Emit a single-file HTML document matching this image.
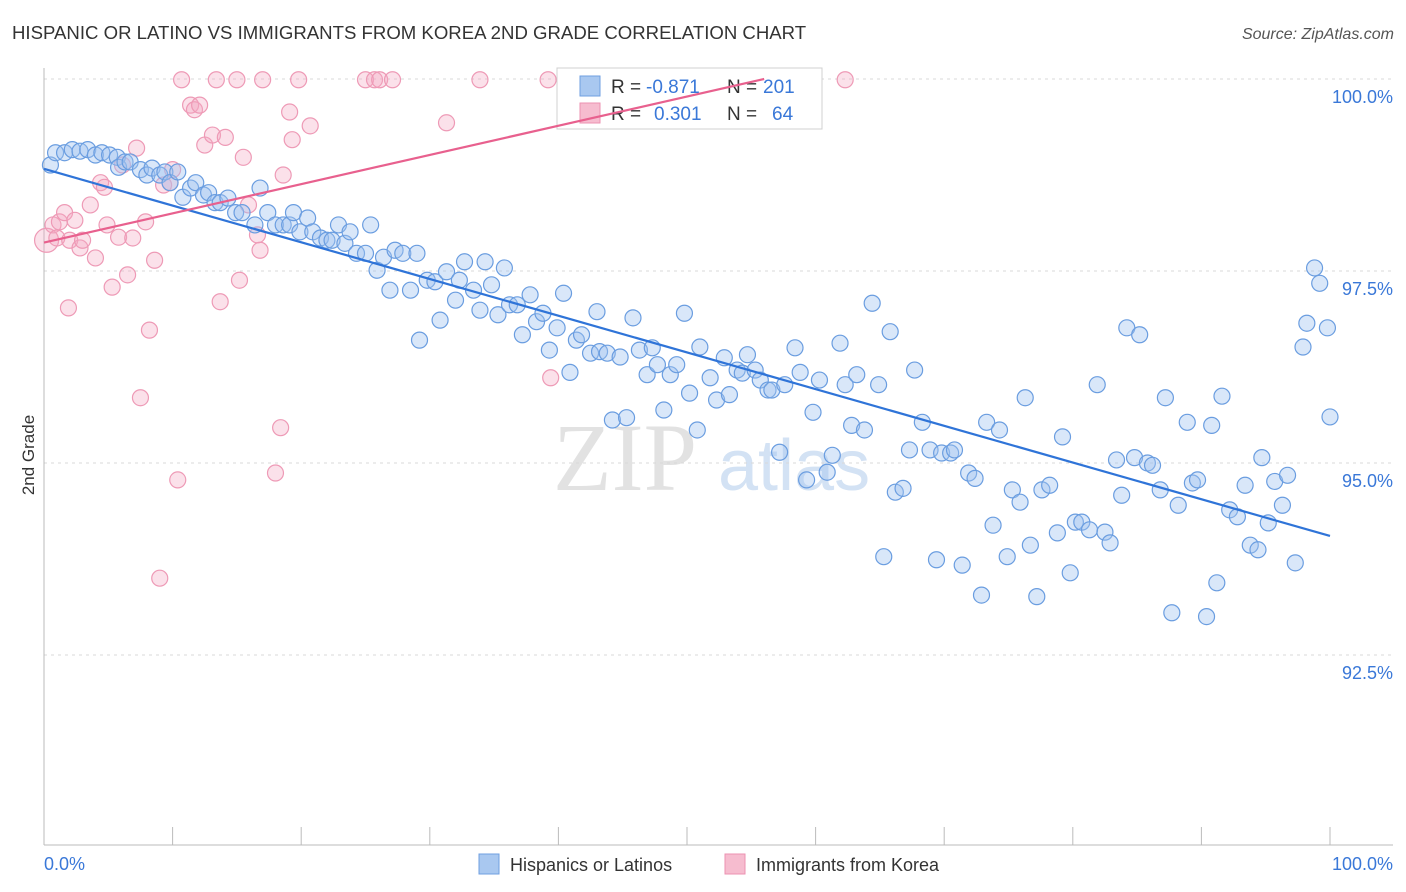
<!DOCTYPE html>
<html><head><meta charset="utf-8"><style>
body{margin:0;background:#fff;font-family:"Liberation Sans",sans-serif;}
svg{display:block}
</style></head><body>
<svg id="chart" width="1406" height="892" viewBox="0 0 1406 892" xmlns="http://www.w3.org/2000/svg">
<text x="12" y="39" font-size="18.6" fill="#333" font-family="Liberation Sans, sans-serif">HISPANIC OR LATINO VS IMMIGRANTS FROM KOREA 2ND GRADE CORRELATION CHART</text>
<text x="1394" y="39" font-size="16" fill="#555" text-anchor="end" font-style="italic">Source: ZipAtlas.com</text>
<g>
<text x="553" y="490" font-size="96" fill="#e2e2e2" font-family="Liberation Serif, serif">ZIP</text>
<text x="718" y="490" font-size="72" fill="#d3e2f4" font-family="Liberation Sans, sans-serif">atlas</text>
</g>
<g id="grid"></g>
<g id="axes"></g>
<g>
<rect x="557" y="68" width="265" height="61" fill="#fff" stroke="#d0d0d0"/>
<rect x="580" y="76" width="20" height="20" fill="#a9c8f0" stroke="#6f9fe0"/>
<text x="611" y="93" font-size="19" fill="#333">R =</text>
<text x="646" y="93" font-size="19" fill="#3a78d8">-0.871</text>
<text x="727" y="93" font-size="19" fill="#333">N =</text>
<text x="763" y="93" font-size="19" fill="#3a78d8">201</text>
<rect x="580" y="103" width="20" height="20" fill="#f6bccf" stroke="#ec92b2"/>
<text x="611" y="120" font-size="19" fill="#333">R =</text>
<text x="654" y="120" font-size="19" fill="#3a78d8">0.301</text>
<text x="727" y="120" font-size="19" fill="#333">N =</text>
<text x="772" y="120" font-size="19" fill="#3a78d8">64</text>
</g>
<g id="marks"></g>
<text transform="translate(34,455) rotate(-90)" font-size="17" fill="#333" text-anchor="middle">2nd Grade</text>
<g>
<rect x="479" y="854" width="20" height="20" fill="#a9c8f0" stroke="#6f9fe0"/>
<text x="510" y="871" font-size="18" fill="#333">Hispanics or Latinos</text>
<rect x="725" y="854" width="20" height="20" fill="#f6bccf" stroke="#ec92b2"/>
<text x="756" y="871" font-size="18" fill="#333">Immigrants from Korea</text>
</g>
</svg>
<script>
const blueX=[0.5,0.9,1.6,2.2,2.8,3.4,4.0,4.5,5.1,5.7,5.8,6.3,6.7,7.5,8.0,8.4,9.0,9.4,9.8,10.4,10.8,11.4,11.8,12.4,12.8,13.3,13.7,14.3,14.9,15.4,16.4,16.8,17.4,18.0,18.6,19.1,19.4,19.9,20.5,20.9,21.5,22.0,22.4,22.9,23.4,23.8,24.3,25.0,25.4,25.9,26.4,26.9,27.3,27.9,28.5,29.0,29.2,29.8,30.4,30.8,31.3,32.0,32.3,32.7,33.4,33.9,34.3,34.8,35.3,35.8,36.2,36.8,37.2,37.8,38.3,38.8,39.3,39.9,40.4,40.9,41.4,41.8,42.5,43.0,43.2,43.8,44.2,44.8,45.3,45.8,46.3,46.9,47.3,47.7,48.2,48.7,49.2,49.8,50.2,50.8,51.0,51.8,52.3,52.9,53.3,53.9,54.3,54.7,55.3,55.7,56.3,56.6,57.2,57.6,58.4,58.8,59.3,59.8,60.3,60.9,61.3,61.9,62.3,62.8,63.2,63.8,64.4,64.9,65.3,65.8,66.2,66.8,67.3,67.7,68.3,68.9,69.4,69.8,70.5,70.8,71.4,71.9,72.4,72.9,73.3,73.8,74.3,74.9,75.3,75.9,76.3,76.7,77.2,77.6,78.2,78.8,79.2,79.8,80.2,80.7,81.3,81.9,82.5,82.9,83.4,83.8,84.2,84.8,85.2,85.8,86.2,86.8,87.2,87.7,88.2,88.9,89.3,89.7,90.4,90.8,91.2,91.6,92.2,92.8,93.4,93.8,94.4,94.7,95.2,95.7,96.3,96.7,97.3,97.9,98.2,98.8,99.2,99.8,100.0];
const blueY=[98.88,99.04,99.04,99.08,99.06,99.08,99.01,99.04,99.01,98.98,98.85,98.92,98.92,98.82,98.75,98.84,98.75,98.79,98.65,98.79,98.46,98.58,98.65,98.49,98.52,98.39,98.39,98.45,98.26,98.26,98.10,98.58,98.26,98.10,98.10,98.10,98.26,98.01,98.19,98.01,97.93,97.90,97.90,98.10,97.86,98.01,97.73,97.73,98.10,97.51,97.68,97.25,97.77,97.73,97.25,97.73,96.60,97.38,97.36,96.86,97.49,97.12,97.38,97.62,97.25,96.99,97.62,97.32,96.93,97.54,97.06,97.06,96.67,97.19,96.84,96.95,96.47,96.76,97.21,96.18,96.60,96.67,96.43,96.97,96.45,96.43,95.56,96.38,95.59,96.89,96.47,96.15,96.50,96.28,95.69,96.15,96.28,96.95,95.91,95.43,96.51,96.11,95.82,96.37,95.89,96.21,96.17,96.41,96.21,96.08,95.95,95.95,95.14,96.02,96.50,96.18,94.78,95.66,96.08,94.88,95.10,96.56,96.02,95.49,96.15,95.43,97.08,96.02,93.78,96.71,94.62,94.67,95.17,96.21,95.53,95.17,93.74,95.13,95.13,95.17,93.67,94.87,94.80,93.28,95.53,94.19,95.43,93.78,94.65,94.49,95.85,93.93,93.26,94.65,94.71,94.09,95.34,93.57,94.23,94.23,94.13,96.02,94.10,93.96,95.04,94.58,96.76,95.07,96.67,95.00,94.97,94.65,95.85,93.05,94.45,95.53,94.74,94.78,93.00,95.49,93.44,95.87,94.39,94.30,94.71,93.93,93.87,95.07,94.22,94.76,94.45,94.84,93.70,96.51,96.82,97.54,97.34,96.76,95.60];
const pinkX=[0.2,0.7,1.0,1.2,1.6,1.9,2.0,2.4,2.8,3.0,3.6,4.0,4.4,4.7,4.9,5.3,5.8,6.1,6.5,6.9,7.2,7.5,7.9,8.2,8.6,9.0,9.3,9.8,10.0,10.4,10.7,11.4,11.7,12.1,12.5,13.1,13.4,13.7,14.1,15.0,15.2,15.5,15.9,16.6,16.8,17.0,18.0,18.4,18.6,19.1,19.3,19.8,20.7,25.0,25.7,26.1,27.1,31.3,33.9,39.2,39.4,62.3];
const pinkY=[97.90,98.10,97.93,98.14,98.26,97.02,97.90,98.16,97.80,97.90,98.36,97.67,98.65,98.59,98.10,97.29,97.94,98.88,97.45,97.93,99.10,95.85,98.14,96.73,97.64,93.50,98.62,98.65,98.82,94.78,99.99,99.66,99.60,99.66,99.14,99.27,99.99,97.10,99.24,99.99,97.38,98.98,98.36,97.97,97.77,99.99,94.87,95.46,98.75,99.57,99.21,99.99,99.39,99.99,99.99,99.99,99.99,99.43,99.99,99.99,96.11,99.99];
const blueTrendX=[0,100];
const blueTrendY=[98.83,94.05];
const pinkTrendX=[0,56];
const pinkTrendY=[97.87,100.0];
const yTicks=[100,97.5,95,92.5];
const yTickLabels=["100.0%","97.5%","95.0%","92.5%"];
const xTicks=[0,10,20,30,40,50,60,70,80,90,100];

const NS="http://www.w3.org/2000/svg";
const X0=44,X1=1330,Y100=79,PXPER=76.8;
function sx(v){return X0+(X1-X0)*v/100;}
function sy(v){return Y100+(100-v)*PXPER;}
function mk(tag,attrs,parent){const e=document.createElementNS(NS,tag);for(const k in attrs)e.setAttribute(k,attrs[k]);parent.appendChild(e);return e;}
const grid=document.getElementById('grid'),axes=document.getElementById('axes'),marks=document.getElementById('marks');
yTicks.forEach((t,i)=>{
  const l=mk('line',{x1:44,x2:1393,y1:sy(t),y2:sy(t),stroke:'#d8d8d8','stroke-dasharray':'3,4'},grid);
  
  
  const tx=mk('text',{x:1393,y:sy(t)+24,'font-size':18,fill:'#3a78d8','text-anchor':'end'},axes);
  tx.textContent=yTickLabels[i];
  
  
});
const xa=mk('line',{x1:44,x2:1393,y1:845,y2:845,stroke:'#bbb'},axes);


const ya=mk('line',{x1:44,x2:44,y1:68,y2:845,stroke:'#bbb'},axes);


xTicks.forEach(t=>{
  const l=mk('line',{x1:sx(t),x2:sx(t),y1:827,y2:845,stroke:'#bbb'},axes);
  
  
});
const xl0=mk('text',{x:44,y:870,'font-size':18,fill:'#3a78d8'},axes);xl0.textContent="0.0%";


const xl1=mk('text',{x:1393,y:870,'font-size':18,fill:'#3a78d8','text-anchor':'end'},axes);xl1.textContent="100.0%";



pinkX.forEach((v,i)=>{
  const c=mk('circle',{cx:sx(v),cy:sy(pinkY[i]),r:i===0?12:8,fill:'rgba(244,170,196,0.35)',stroke:'#ee9ab6','stroke-width':1.2},marks);
  
  
});
blueX.forEach((v,i)=>{
  const c=mk('circle',{cx:sx(v),cy:sy(blueY[i]),r:8,fill:'rgba(160,195,240,0.4)',stroke:'#6a9de0','stroke-width':1.2},marks);
  
  
});
const bt=mk('line',{x1:sx(blueTrendX[0]),y1:sy(blueTrendY[0]),x2:sx(blueTrendX[1]),y2:sy(blueTrendY[1]),stroke:'#2f74d8','stroke-width':2.2},marks);


const pt=mk('line',{x1:sx(pinkTrendX[0]),y1:sy(pinkTrendY[0]),x2:sx(pinkTrendX[1]),y2:sy(pinkTrendY[1]),stroke:'#e8608e','stroke-width':2.2},marks);


</script>
</body></html>
